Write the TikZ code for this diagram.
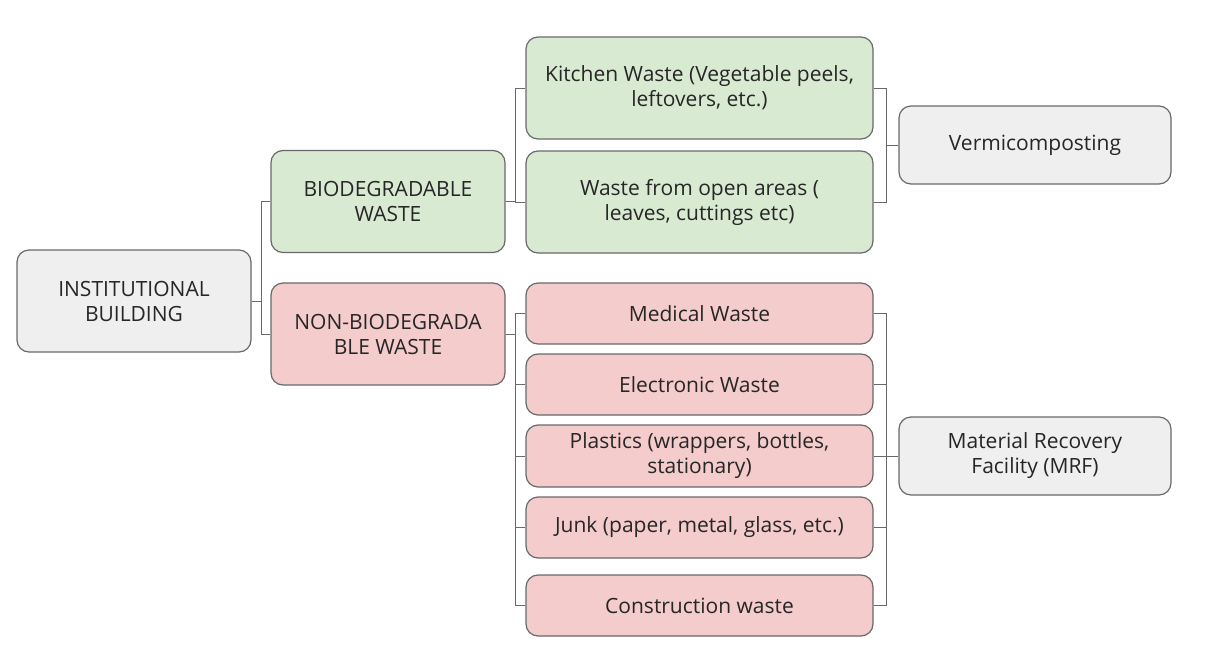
\documentclass[tikz,border=0pt]{standalone}
\usepackage{fontspec}
\setmainfont{Open Sans}
\usetikzlibrary{positioning}
\definecolor{greyfill}{RGB}{239,239,239}
\definecolor{greenfill}{RGB}{217,234,211}
\definecolor{redfill}{RGB}{244,204,204}
\definecolor{edgegrey}{RGB}{105,105,105}
\definecolor{textgrey}{RGB}{38,38,38}

\tikzset{
    box/.style={draw=edgegrey, line width=1.2pt, rounded corners=12pt, inner sep=0pt,
        align=center, text=textgrey, font=\fontsize{21}{25}\selectfont},
    greybox/.style={box, fill=greyfill},
    greenbox/.style={box, fill=greenfill, minimum height=102pt},
    redbox/.style={box, fill=redfill, minimum width=347pt, minimum height=61pt},
    link/.style={draw=edgegrey, line width=1pt}
}

\begin{document}
\begin{tikzpicture}[x=1pt, y=-1pt]
    \useasboundingbox (0,0) rectangle (1232,672);

    % root and the two main classes
    \node[greybox, minimum width=234pt, minimum height=102pt] (inst) at (134,301) {INSTITUTIONAL\\BUILDING};
    \node[greenbox, minimum width=234pt] (bio) at (388,201.5) {BIODEGRADABLE\\WASTE};
    \node[redbox, minimum width=234pt, minimum height=102pt, fill=redfill] (nonbio) at (388,334) {NON-BIODEGRADA\\BLE WASTE};

    % biodegradable kinds
    \node[greenbox, minimum width=347pt] (kitchen) at (699.5,88) {Kitchen Waste (Vegetable peels,\\leftovers, etc.)};
    \node[greenbox, minimum width=347pt] (openarea) at (699.5,202) {Waste from open areas (\\leaves, cuttings etc)};

    % non-biodegradable kinds
    \node[redbox] (medical) at (699.5,313.5) {Medical Waste};
    \node[redbox] (electronic) at (699.5,384.5) {Electronic Waste};
    \node[redbox, minimum height=62pt] (plastics) at (699.5,456) {Plastics (wrappers, bottles,\\stationary)};
    \node[redbox] (junk) at (699.5,527.5) {Junk (paper, metal, glass, etc.)};
    \node[redbox] (construction) at (699.5,605.5) {Construction waste};

    % treatment
    \node[greybox, minimum width=272pt, minimum height=78pt] (vermi) at (1035,145) {Vermicomposting};
    \node[greybox, minimum width=272pt, minimum height=78pt] (mrf) at (1035,456) {Material Recovery\\Facility (MRF)};

    % connectors
    \draw[link] (inst.east) -- ++(10,0) coordinate (ij);
    \foreach \n in {bio,nonbio}
        \draw[link] (ij) |- (\n.west);
    \draw[link] (bio.east) -- ++(10,0) coordinate (bj);
    \foreach \n in {kitchen,openarea}
        \draw[link] (bj) |- (\n.west);
    \draw[link] (nonbio.east) -- ++(10,0) coordinate (nj);
    \foreach \n in {medical,electronic,plastics,junk,construction}
        \draw[link] (nj) |- (\n.west);
    \draw[link] (vermi.west) -- ++(-12,0) coordinate (vj);
    \foreach \n in {kitchen,openarea}
        \draw[link] (vj) |- (\n.east);
    \draw[link] (mrf.west) -- ++(-12,0) coordinate (mj);
    \foreach \n in {medical,electronic,plastics,junk,construction}
        \draw[link] (mj) |- (\n.east);
\end{tikzpicture}
\end{document}
